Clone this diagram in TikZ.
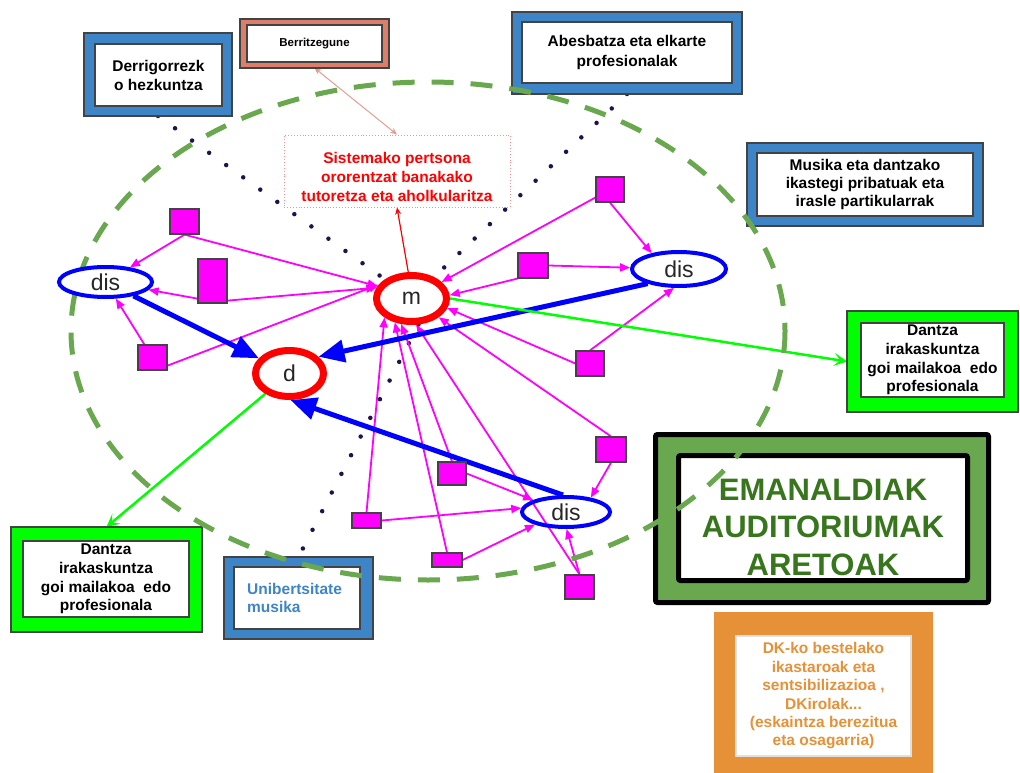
\documentclass[tikz,border=0pt]{standalone}
\usepackage{fontspec}
\setmainfont{Liberation Sans}
\usetikzlibrary{arrows.meta,shapes.geometric,backgrounds}
\definecolor{bxblue}{HTML}{3D85C6}
\definecolor{bxsalmon}{HTML}{DD7E6B}
\definecolor{bxorange}{HTML}{E69138}
\definecolor{bxgreen}{HTML}{6AA84F}
\definecolor{txgreen}{HTML}{38761D}
\definecolor{brgreen}{HTML}{00FF00}
\definecolor{magcol}{HTML}{FF00FF}
\definecolor{bord}{HTML}{434343}
\definecolor{navy}{HTML}{20124D}
\definecolor{pureblue}{HTML}{0000FF}
\definecolor{purered}{HTML}{FF0000}
\newcommand\bxf{\fontsize{15.5}{18.6}\selectfont\bfseries}
\begin{document}
\begin{tikzpicture}[x=1pt,y=-1pt,
  obox/.style={draw=bord,line width=1.2pt,inner sep=0pt,outer sep=0pt},
  ibox/.style={draw=bord,fill=white,line width=1.2pt,inner sep=0pt,align=center,font=\bxf},
  sq/.style={draw=bord,fill=magcol,line width=1.2pt,inner sep=0pt,outer sep=0.6pt},
  disnode/.style={ellipse,draw=pureblue,line width=4pt,fill=white,inner sep=0pt,outer sep=2pt,
     font=\fontsize{23}{26}\selectfont,text=black!85},
  mdnode/.style={ellipse,draw=purered,line width=7pt,fill=white,inner sep=0pt,outer sep=3.5pt,
     font=\fontsize{23}{26}\selectfont,text=black!85},
  mag/.style={draw=magcol,line width=1.8pt,-{Triangle[length=10pt,width=8pt]}},
  bluearr/.style={draw=pureblue,line width=5pt,-{Triangle[length=26pt,width=22pt]}},
  greenarr/.style={draw=brgreen,line width=2.5pt,-{Stealth[length=13pt,width=13pt,inset=6pt]}},
  navydots/.style={draw=navy,line width=4.5pt,line cap=round,dash pattern=on 0pt off 21pt},
  salmonarr/.style={draw=bxsalmon!75,line width=1pt,{Stealth[length=7pt,width=6pt]}-{Stealth[length=7pt,width=6pt]}},
  redarr/.style={draw=purered,line width=1.2pt,-{Stealth[length=7pt,width=6pt]}}
]
\useasboundingbox (0,0) rectangle (1020,773);

% ---- boxes ----
\node[obox,fill=bxblue,minimum width=148pt,minimum height=83pt] (derrO) at (158,74.5) {};
\node[ibox,minimum width=127pt,minimum height=62pt,font=\fontsize{15.5}{19}\selectfont\bfseries] (derr) at (158.5,75) {Derrigorrezk\\o hezkuntza};

\node[obox,fill=bxsalmon,minimum width=149pt,minimum height=49pt] (berO) at (314.5,43.5) {};
\node[ibox,minimum width=135pt,minimum height=37pt,font=\fontsize{11.5}{14}\selectfont\bfseries] (ber) at (314.5,43.5) {Berritzegune};

\node[obox,fill=bxblue,minimum width=230pt,minimum height=82pt] (abO) at (627,53) {};
\node[ibox,minimum width=210pt,minimum height=61pt,font=\fontsize{15.5}{20}\selectfont\bfseries] (ab) at (627,52.5) {Abesbatza eta elkarte\\profesionalak};

\node[obox,fill=bxblue,minimum width=236pt,minimum height=83pt] (musO) at (865,184.5) {};
\node[ibox,minimum width=216pt,minimum height=63pt,font=\fontsize{15.5}{18}\selectfont\bfseries] (mus) at (865,184.5) {Musika eta dantzako\\ikastegi pribatuak eta\\irasle partikularrak};

\node[obox,fill=brgreen,minimum width=171pt,minimum height=101pt] (dRo) at (932.5,361.5) {};
\node[ibox,minimum width=143pt,minimum height=74pt] (dR) at (932.5,360) {Dantza\\irakaskuntza\\goi mailakoa\ \ edo\\profesionala};

\node[obox,fill=brgreen,minimum width=191pt,minimum height=105pt] (dLo) at (106.5,579.5) {};
\node[ibox,minimum width=166pt,minimum height=76pt] (dL) at (106,579) {Dantza\\irakaskuntza\\goi mailakoa\ \ edo\\profesionala};

\node[obox,fill=bxblue,minimum width=149pt,minimum height=82pt] (uniO) at (298.5,598) {};
\node[ibox,minimum width=126pt,minimum height=62pt] (uni) at (297,598) {};
\node[anchor=west,align=left,inner sep=0pt,font=\fontsize{15.5}{18}\selectfont\bfseries,text=bxblue] (unitxt) at (247,598) {Unibertsitate\\musika};

\node[draw=black,line width=5pt,fill=bxgreen,rounded corners=2pt,minimum width=333pt,minimum height=168pt] (emO) at (822,518.5) {};
\node[draw=black,line width=5pt,fill=white,rounded corners=2pt,minimum width=289pt,minimum height=125pt] (em) at (823,518) {};
\node[font=\fontsize{31}{37.5}\selectfont\bfseries,text=txgreen,align=center,inner sep=0pt] (emtxt) at (823,527) {EMANALDIAK\\AUDITORIUMAK\\ARETOAK};

\node[obox,fill=bxorange,draw=bxorange,minimum width=217pt,minimum height=159pt] (dkO) at (823.5,692.5) {};
\node[ibox,draw=black!12,minimum width=175pt,minimum height=120pt,text=bxorange,font=\fontsize{15.5}{18.4}\selectfont\bfseries] (dk) at (823.5,696) {DK-ko bestelako\\ikastaroak eta\\sentsibilizazioa ,\\DKirolak...\\(eskaintza berezitua\\eta osagarria)};

\node[draw=purered!45,dotted,line width=0.9pt,minimum width=226pt,minimum height=72pt,inner sep=0pt] (redbox) at (397,171) {};
\node[font=\bxf,text=purered,align=center,inner sep=0pt] (redtxt) at (397,177) {Sistemako pertsona\\ororentzat banakako\\tutoretza eta aholkularitza};

% ---- dashed ellipse ----
\draw[bxgreen,line width=5pt,dash pattern=on 22pt off 17pt] (428,331) ellipse [x radius=357, y radius=249];

% ---- ellipse nodes ----
\node[disnode,minimum width=93pt,minimum height=30pt] (disL) at (105.5,282) {dis};
\node[disnode,minimum width=94pt,minimum height=34pt] (disR) at (679,269) {dis};
\node[disnode,fill=none,minimum width=88pt,minimum height=30pt] (disB) at (566,512) {dis};
\node[mdnode,minimum width=70pt,minimum height=46pt] (m) at (411.5,298.5) {m};
\node[mdnode,minimum width=68pt,minimum height=46pt] (d) at (289.5,373.5) {d};

% ---- squares ----
\node[sq,minimum width=29pt,minimum height=25pt] (s1) at (184.5,221.5) {};
\node[sq,minimum width=29pt,minimum height=44pt] (s2) at (212.5,281) {};
\node[sq,minimum width=29pt,minimum height=25pt] (s3) at (152.5,357.5) {};
\node[sq,minimum width=28pt,minimum height=25pt] (s4) at (610,189.5) {};
\node[sq,minimum width=30pt,minimum height=25pt] (s5) at (533,265.5) {};
\node[sq,minimum width=28pt,minimum height=25pt] (s6) at (590,363.5) {};
\node[sq,minimum width=30pt,minimum height=25pt] (s7) at (611,449.5) {};
\node[sq,minimum width=28pt,minimum height=23pt] (s8) at (452,473.5) {};
\node[sq,minimum width=29pt,minimum height=15pt] (s9) at (366.5,520.5) {};
\node[sq,minimum width=30pt,minimum height=14pt] (s10) at (447,560) {};
\node[sq,minimum width=29pt,minimum height=24pt] (s11) at (579.5,587) {};

% ---- connectors ----
\begin{scope}[on background layer]
\fill[white] (0,0) rectangle (1020,773);
\draw[navydots] (derrO.south) -- (m);
\draw[navydots] (abO.south) -- (m);
\draw[navydots] (m.-75) -- (uniO.north);

\draw[mag] (s1.south) -- (disL);
\draw[mag] (s1.south) -- (m.160);
\draw[mag] ([yshift=5pt]s2.south west) -- (disL);
\draw[mag] ([yshift=3pt]s2.south east) -- (m.163);
\draw[mag] (s3) -- (disL);
\draw[mag] ([yshift=5pt]s3.south east) -- (m.157);
\draw[mag] (s4) -- (m);
\draw[mag] (s4.south) -- (disR.150);
\draw[mag] (s5.south west) -- (m.5);
\draw[mag] (s5.east) -- (disR);
\draw[mag] (s6.north) -- (disR.-105);
\draw[mag] (s6.west) -- (m.-15);
\draw[mag] (s7.north) -- (m);
\draw[mag] (s7.south) -- (disB.30);
\draw[mag] (s8.north) -- (m.-112);
\draw[mag] (s8.east) -- (disB.160);
\draw[mag] (s9.north) -- (m.-145);
\draw[mag] (s9.east) -- (disB.175);
\draw[mag] (s10.north) -- (m.-125);
\draw[mag] (s10.east) -- (disB.-158);
\draw[mag] (s11.north) -- (m.-80);
\draw[mag] (s11.north) -- (disB.-88);

\draw[bluearr] (disL) -- (d);
\draw[bluearr] (disR.205) -- (d.30);
\draw[bluearr] (disB.100) -- (d.-88);

\draw[greenarr] (m.east) -- (dRo.west);
\draw[greenarr] (d) -- (dLo.north);

\draw[salmonarr] (redbox.north) -- (berO.south);
\draw[redarr] (m.97) -- (redbox.south);
\end{scope}
\end{tikzpicture}
\end{document}
